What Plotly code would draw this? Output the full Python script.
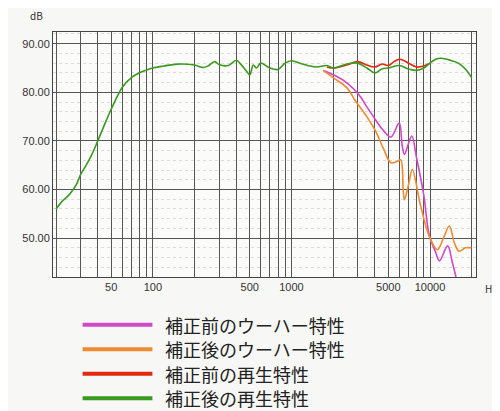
import plotly.graph_objects as go

# frequency response curves (Hz, dB)
green_f = [20, 22, 25, 28, 30, 33, 36, 40, 45, 50, 55, 60, 70, 80, 90, 100, 120, 150, 200, 230, 250, 280, 300, 350, 400, 430, 470, 500, 530, 560, 600, 700, 800, 900, 1000, 1200, 1500, 1800, 2000, 2500, 3000, 3500, 4000, 4500, 5000, 6000, 7000, 8000, 9000, 10000, 11000, 12000, 14000, 16000, 18000, 20000]
green_db = [56, 57.5, 59, 61, 63, 65, 67, 70, 73.5, 76.5, 79, 81, 83, 84, 84.6, 85, 85.4, 85.8, 85.6, 85.1, 85.4, 86.3, 85.7, 85.5, 86.6, 85.8, 84.5, 83.6, 85.6, 85, 86, 85, 84.7, 86, 86.5, 85.8, 85.2, 85.5, 85, 85.8, 86, 85, 84, 84.8, 85, 85.5, 84.8, 84.5, 85, 86, 86.8, 87, 86.6, 86, 84.8, 83]
red_f = [1800, 2000, 2500, 3000, 3500, 4000, 4500, 5000, 5500, 6000, 6500, 7000, 8000, 9000, 10000]
red_db = [85.2, 85, 85.6, 86.3, 85.6, 85.2, 85.8, 85.5, 86.3, 86.8, 86.5, 86, 85.2, 85.4, 86]
mag_f = [1700, 2080, 2500, 3070, 3500, 3820, 4500, 5220, 5990, 6300, 6540, 7000, 7400, 8000, 9000, 9870, 11000, 11700, 13400, 14500, 15400]
mag_db = [84.5, 83.4, 82, 79.5, 77, 75.4, 72.5, 70.8, 73.7, 69, 67.2, 69.5, 71, 66.5, 59, 50.7, 47, 45.3, 48.4, 45, 42]
org_f = [1700, 2000, 2500, 2900, 3500, 4050, 4600, 5220, 5800, 6150, 6400, 6540, 7000, 7450, 8500, 9870, 11300, 12500, 13800, 15000, 16200, 18000, 19900]
org_db = [84.5, 83, 81, 78.2, 75, 72, 68.5, 65.5, 65.8, 66.1, 60, 57.9, 61, 64.1, 57, 50.4, 47.6, 50, 52.5, 49, 47.3, 48, 48]

tick_vals = [m * 10 ** d for d in (1, 2, 3, 4) for m in range(1, 10)]
tick_text = [str(v) if v in (50, 100, 500, 1000, 5000, 10000) else "" for v in tick_vals]

legend_names = ["補正前のウーハー特性", "補正後のウーハー特性", "補正前の再生特性", "補正後の再生特性"]
legend_colors = ["#d04ac8", "#f08a30", "#e02a10", "#3a9a20"]

fig = go.Figure()
series = [(mag_f, mag_db, legend_colors[0]), (org_f, org_db, legend_colors[1]),
          (red_f, red_db, legend_colors[2]), (green_f, green_db, legend_colors[3])]
for f, db, c in series:
    fig.add_trace(go.Scatter(x=f, y=db, mode="lines", line=dict(color=c, width=1.6),
                             line_shape="spline", showlegend=False))

# hand-made legend under the plot
for i, (name, c) in enumerate(zip(legend_names, legend_colors)):
    yp = -0.195 - i * 0.1
    fig.add_shape(type="line", xref="paper", yref="paper", x0=0.07, x1=0.235, y0=yp, y1=yp,
                  line=dict(color=c, width=4))
    fig.add_annotation(xref="paper", yref="paper", x=0.26, y=yp, text=name, showarrow=False,
                       xanchor="left", yanchor="middle", font=dict(size=18, color="#222"))

fig.add_annotation(xref="paper", yref="paper", x=-0.02, y=1.03, text="dB", showarrow=False,
                   xanchor="right", yanchor="bottom", font=dict(size=10, color="#333"))
fig.add_annotation(xref="paper", yref="paper", x=1.055, y=-0.01, text="Hz", showarrow=False,
                   xanchor="right", yanchor="top", font=dict(size=10, color="#333"))

fig.update_xaxes(type="log", range=[1.279, 4.332], tickvals=tick_vals, ticktext=tick_text,
                 showgrid=True, gridcolor="#555", gridwidth=1, ticks="", tickangle=0,
                 showline=True, linecolor="#444", mirror=True,
                 tickfont=dict(size=11, color="#333", family="Liberation Sans"))
fig.update_yaxes(range=[42, 92.4], tickvals=[50, 60, 70, 80, 90],
                 ticktext=["50.00", "60.00", "70.00", "80.00", "90.00"],
                 showgrid=True, gridcolor="#555", gridwidth=1, zeroline=False,
                 minor=dict(dtick=2, showgrid=True, gridcolor="#dcdcdc", griddash="dot"),
                 showline=True, linecolor="#444", mirror=True,
                 tickfont=dict(size=11, color="#333", family="Liberation Sans"))
fig.update_layout(width=500, height=411, margin=dict(l=45, r=32, t=24, b=142),
                  paper_bgcolor="#f7f7f5", plot_bgcolor="#fbfbfa",
                  font=dict(family="Noto Sans CJK JP"))
fig.write_html("out.html")
